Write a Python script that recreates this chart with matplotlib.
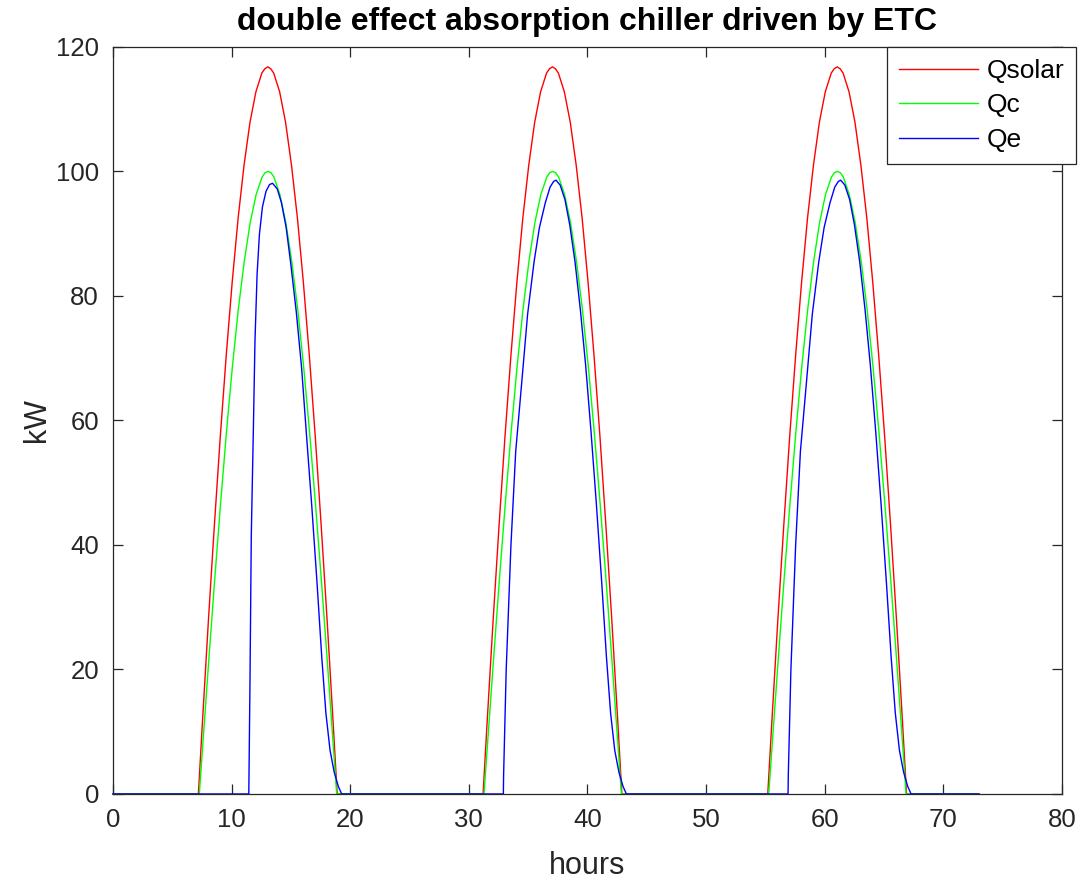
import matplotlib
matplotlib.use("Agg")
import matplotlib.pyplot as plt

plt.rcParams['font.family'] = ['Liberation Sans', 'DejaVu Sans']

# hours of the day (day 1) and values, kW
day_starts = [0, 24, 48]
t_end = 73

qsolar_t = [7.2, 7.55, 8.05, 8.55, 9.05, 9.55, 10.05, 10.55, 11.05, 11.55, 12.05, 12.55, 12.8,
            13.05, 13.3, 13.55, 14.05, 14.55, 15.05, 15.55, 16.05, 16.55, 17.05, 17.55, 18.05,
            18.55, 18.9]
qsolar_v = [0, 11.8, 28, 43.2, 57.5, 70.5, 82.2, 92.5, 101, 107.9, 112.8, 115.8, 116.5,
            116.8, 116.5, 115.8, 112.8, 107.9, 101, 92.5, 82.2, 70.5, 57.5, 43.2, 28,
            11.8, 0]

qc_t = [7.28, 7.57, 8.07, 8.57, 9.07, 9.57, 10.07, 10.57, 11.07, 11.57, 12.07, 12.57, 12.82,
        13.07, 13.32, 13.57, 14.07, 14.57, 15.07, 15.57, 16.07, 16.57, 17.07, 17.57, 18.07,
        18.57, 18.86]
qc_v = [0, 7.9, 21.3, 34.3, 46.6, 58.2, 68.7, 77.9, 85.6, 91.8, 96.3, 99.1, 99.8,
        100, 99.8, 99.1, 96.3, 91.8, 85.6, 77.9, 68.7, 58.2, 46.6, 34.3, 21.3,
        7.9, 0]

# Qe: first day starts late, days 2 and 3 earlier
qe1_t = [11.45, 11.47, 11.55, 11.66, 11.85, 11.97, 12.15, 12.35, 12.6, 12.9, 13.2, 13.45,
         13.85, 14.2, 14.6, 15.0, 15.45, 15.9, 16.3, 16.75, 17.2, 17.6, 17.95, 18.3,
         18.65, 19.0, 19.28]
qe1_v = [0, 3.5, 18, 41.5, 60, 72.7, 83.5, 90, 94.3, 96.8, 97.9, 98.1,
         97.2, 95, 91, 85, 77.5, 68.5, 58, 46.5, 34, 22, 13, 7,
         3.5, 1.2, 0]

qe2_t = [8.91, 8.93, 9.15, 9.55, 9.95, 10.5, 10.95, 11.5, 11.95, 12.45, 12.85, 13.15, 13.35,
         13.7, 14.1, 14.5, 14.95, 15.4, 15.85, 16.3, 16.75, 17.2, 17.6, 17.95, 18.3,
         18.65, 19.0, 19.28]
qe2_v = [0, 3, 20, 40, 55, 67, 77, 85.5, 91, 95, 97.5, 98.4, 98.6,
         97.8, 95.5, 91.5, 85.5, 77.8, 68.8, 58.2, 46.6, 34, 22, 13, 7,
         3.5, 1.2, 0]


def series(day_profiles):
    # day_profiles: list of (hours, values) for each day
    x, y = [0], [0]
    for d0, (ht, hv) in zip(day_starts, day_profiles):
        x += [d0 + h for h in ht]
        y += list(hv)
    x.append(t_end)
    y.append(0)
    return x, y


xs, ys = series([(qsolar_t, qsolar_v)] * 3)
xc, yc = series([(qc_t, qc_v)] * 3)
xe, ye = series([(qe1_t, qe1_v), (qe2_t, qe2_v), (qe2_t, qe2_v)])

fig = plt.figure(figsize=(10.8, 8.81), dpi=100)
ax = fig.add_axes([0.1046, 0.0988, 0.8787, 0.8479])

ax.plot(xs, ys, color=(1, 0, 0), lw=1.0, label='Qsolar', clip_on=False)
ax.plot(xc, yc, color=(0, 1, 0), lw=1.0, label='Qc', clip_on=False)
ax.plot(xe, ye, color=(0, 0, 1), lw=1.0, label='Qe', clip_on=False)

ax.set_xlim(0, 80)
ax.set_ylim(0, 120)
ax.set_xticks(range(0, 81, 10))
ax.set_yticks(range(0, 121, 20))

dark = (0.15, 0.15, 0.15)
for s in ax.spines.values():
    s.set_color(dark)
    s.set_linewidth(0.9)
ax.tick_params(direction='in', top=True, right=True, length=7, width=0.9,
               colors=dark, labelsize=18.5, pad=10)

ax.set_xlabel('hours', fontsize=22, color=dark, labelpad=14)
ax.set_ylabel('kW', fontsize=22, color=dark, labelpad=3)
ax.set_title('double effect absorption chiller driven by ETC', fontsize=23,
             fontweight='bold', pad=12)

leg = ax.legend(loc='upper right', bbox_to_anchor=(1.0148, 1.0), borderaxespad=0,
                fontsize=19, handlelength=3.0, handletextpad=0.3, labelspacing=0.4,
                fancybox=False, framealpha=1, edgecolor=dark, borderpad=0.45)
leg.get_frame().set_linewidth(0.9)

fig.savefig('out.png', dpi=100)
